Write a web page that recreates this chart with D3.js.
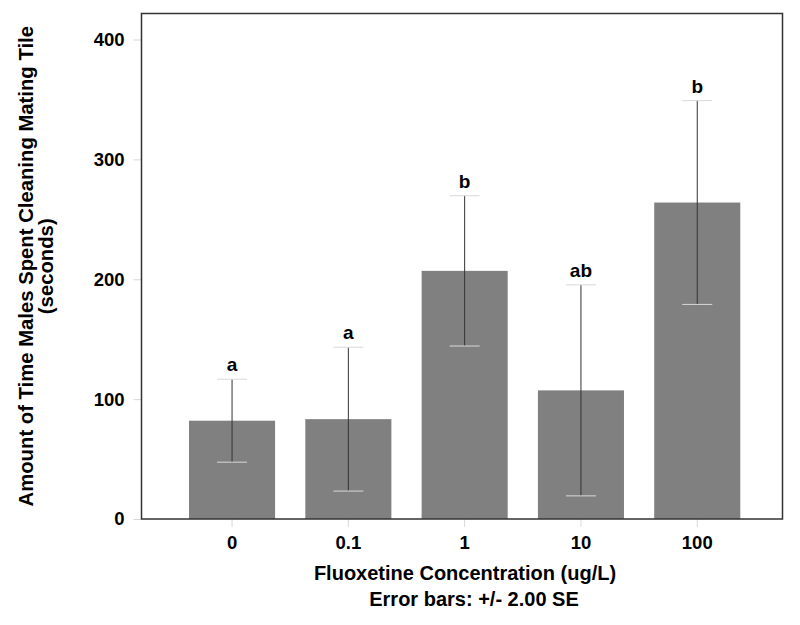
<!DOCTYPE html>
<html>
<head>
<meta charset="utf-8">
<script src="https://cdn.jsdelivr.net/npm/d3@7"></script>
<style>
  body { margin: 0; background: #fff; }
  text { font-family: "Liberation Sans", Arial, sans-serif; font-weight: bold; fill: #000; }
</style>
</head>
<body>
<svg width="800" height="625"></svg>
<script>
const categories = ['0', '0.1', '1', '10', '100'];
const means = [82, 83.3, 207, 107.3, 264];
const errors = [34.6, 60, 62.7, 88, 85];   // +/- 2.00 SE
const letters = ['a', 'a', 'b', 'ab', 'b'];
const yTicks = [0, 100, 200, 300, 400];

const svg = d3.select('svg');
const margin = {top: 13.5, left: 141.5};
const width = 641;
const height = 505.5;

const g = svg.append('g').attr('transform', `translate(${margin.left}, ${margin.top})`);

const x = d3.scaleBand()
  .domain(categories)
  .range([32.4, 613.9])
  .paddingInner(0.26)
  .paddingOuter(0.13);
const y = d3.scaleLinear().domain([0, 421.7]).range([height, 0]);

// bars
g.selectAll('.bar')
  .data(categories)
  .enter().append('rect')
  .attr('class', 'bar')
  .attr('x', d => x(d))
  .attr('width', x.bandwidth())
  .attr('y', (d, i) => y(means[i]))
  .attr('height', (d, i) => height - y(means[i]))
  .attr('fill', '#808080');

// error bars
const cx = d => x(d) + x.bandwidth() / 2;
const err = g.selectAll('.err').data(categories).enter().append('g').attr('class', 'err');
err.append('line')
  .attr('x1', cx).attr('x2', cx)
  .attr('y1', (d, i) => y(means[i] + errors[i]))
  .attr('y2', (d, i) => y(means[i] - errors[i]))
  .attr('stroke', '#333').attr('stroke-width', 1);
[1, -1].forEach(s => {
  err.append('line')
    .attr('x1', d => cx(d) - 15).attr('x2', d => cx(d) + 15)
    .attr('y1', (d, i) => y(means[i] + s * errors[i]))
    .attr('y2', (d, i) => y(means[i] + s * errors[i]))
    .attr('stroke', '#d8d8d8').attr('stroke-width', 1);
});
err.append('text')
  .attr('x', cx)
  .attr('y', (d, i) => y(means[i] + errors[i]) - 8)
  .attr('text-anchor', 'middle')
  .style('font-size', '19px')
  .text((d, i) => letters[i]);

// axes
const yAxis = g.append('g')
  .call(d3.axisLeft(y).tickValues(yTicks).tickSize(8).tickPadding(9));
const xAxis = g.append('g')
  .attr('transform', `translate(0, ${height})`)
  .call(d3.axisBottom(x).tickSize(8).tickPadding(9));
[yAxis, xAxis].forEach(a => {
  a.select('.domain').remove();
  a.selectAll('.tick line').attr('stroke', '#d8d8d8');
  a.selectAll('.tick text')
    .style('font-size', '18.5px')
    .style('font-family', '"Liberation Sans", Arial, sans-serif')
    .style('font-weight', 'bold')
    .attr('fill', '#000');
});

// frame
g.append('rect')
  .attr('width', width).attr('height', height)
  .attr('fill', 'none').attr('stroke', '#333').attr('stroke-width', 1.5);

// titles
svg.append('text')
  .attr('x', 465).attr('y', 580)
  .attr('text-anchor', 'middle')
  .style('font-size', '20px')
  .text('Fluoxetine Concentration (ug/L)');
svg.append('text')
  .attr('x', 474).attr('y', 606)
  .attr('text-anchor', 'middle')
  .style('font-size', '20px')
  .text('Error bars: +/- 2.00 SE');

const yTitle = svg.append('text')
  .attr('transform', `translate(33, ${margin.top + height / 2}) rotate(-90)`)
  .attr('text-anchor', 'middle')
  .style('font-size', '20.3px');
yTitle.append('tspan').attr('x', 0).attr('y', 0).text('Amount of Time Males Spent Cleaning Mating Tile');
yTitle.append('tspan').attr('x', 0).attr('y', 19.5).text('(seconds)');
</script>
</body>
</html>
